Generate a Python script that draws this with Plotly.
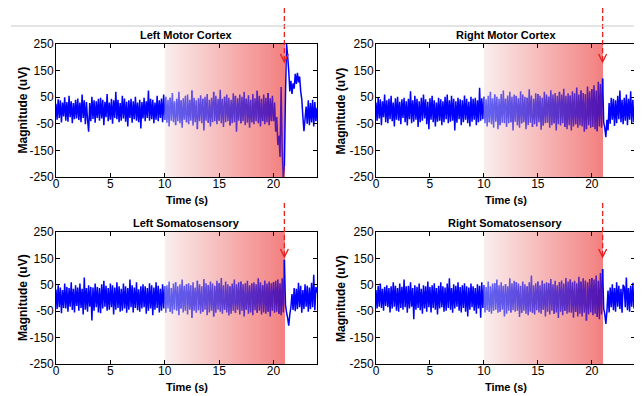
import plotly.graph_objects as go
from plotly.subplots import make_subplots

# ---------------- data ----------------
sample_step = 0.1  # seconds between samples
panel_titles = ["Left Motor Cortex", "Right Motor Cortex", "Left Somatosensory", "Right Somatosensory"]

left_motor = [
    25, -35, 42, -28, 38, -45, 30, -22, 50, -38,
    32, -42, 55, -25, 35, -48, 28, -33, 40, -30,
    45, -36, 30, -44, 60, -28, 38, -52, 32, -35,
    -80, 28, -40, 52, -32, 38, -46, 35, -28, 44,
    -38, 48, -30, 40, -55, 33, -25, 62, -40, 30,
    -35, 44, -50, 38, -28, 70, -33, 40, -44, 28,
    -38, 55, -30, 45, -42, 33, -60, 38, -28, 44,
    -46, 35, -33, 52, -38, 30, -44, 40, -68, 32,
    -30, 48, -40, 35, -28, 75, -38, 44, -33, 40,
    -48, 30, -35, 55, -40, 38, -28, 45, -44, 60,
    -35, 52, -46, 40, -60, 48, -38, 66, -44, 35,
    -55, 44, -40, 70, -48, 38, -65, 46, -35, 55,
    -44, 60, -52, 40, -38, 75, -56, 48, -44, 38,
    -70, 46, -40, 57, -48, 44, -75, 52, -38, 62,
    -46, 40, -60, 48, -44, 70, -40, 55, -52, 44,
    -38, 78, -48, 44, -62, 52, -44, 60, -40, 48,
    -56, 40, -48, 65, -44, 55, -80, 46, -38, 60,
    -48, 52, -40, 70, -55, 44, -46, 57, -65, 40,
    -44, 62, -52, 46, -40, 74, -48, 55, -60, 44,
    -40, 60, -52, 48, -44, 66, -55, 46, -40, 55,
    -40, 30, -80, -25, -130, -95, -175, 88, -155, -250,
    -210, 55, 250, 205, 150, 72, 112, 62, 102, 82,
    138, 100, 142, 106, 128, 72, 42, -22, -78, -32,
    15, -50, 38, -55, 28, -45, 40, -60, 32, -40,
    10,
]

right_motor = [
    30, -38, 48, -30, 42, -55, 35, -25, 60, -44,
    38, -48, 44, -33, 55, -40, 30, -60, 46, -35,
    52, -38, 33, -52, 42, -28, 48, -44, 35, -56,
    44, -33, 72, -48, 38, -42, 55, -35, 44, -62,
    35, -44, 48, -38, 60, -30, 42, -52, 33, -70,
    46, -35, 55, -44, 38, -60, 30, -42, 48, -38,
    42, -55, 35, -44, 52, -33, 60, -48, 38, -42,
    55, -38, 44, -75, 35, -46, 48, -33, 42, -55,
    38, -44, 56, -35, 44, -48, 33, -60, 52, -42,
    44, -35, 48, -55, 38, -44, 85, -38, 46, -33,
    52, -48, 42, -60, 55, -44, 70, -52, 46, -65,
    60, -42, 52, -70, 44, -55, 62, -46, 75, -48,
    44, -62, 56, -48, 70, -44, 52, -75, 60, -42,
    55, -56, 46, -65, 72, -48, 60, -44, 52, -70,
    48, -55, 80, -46, 56, -62, 44, -52, 65, -60,
    62, -44, 55, -72, 48, -56, 70, -48, 60, -46,
    52, -65, 76, -55, 60, -48, 66, -75, 55, -52,
    70, -56, 60, -48, 82, -62, 55, -70, 65, -55,
    56, -75, 72, -60, 65, -52, 86, -65, 60, -56,
    75, -60, 66, -80, 62, -70, 90, -55, 72, -65,
    80, -62, 95, -70, 75, -78, 108, -60, 100, -65,
    120, -45, -65, -100, -35, -75, 28, -50, 48, -35,
    44, -58, 38, -48, 55, -33, 75, -44, 40, -52,
    48, -38, 60, -55, 44, -35, 72, -48, 40, -44,
    30,
]

left_somato = [
    32, -42, 48, -35, 40, -58, 30, -38, 55, -40,
    42, -52, 38, -33, 60, -45, 35, -55, 48, -30,
    40, -48, 55, -38, 35, -62, 78, -44, 38, -52,
    48, -33, 42, -85, 40, -48, 55, -35, 42, -55,
    38, -58, 52, -40, 65, -33, 46, -48, 38, -44,
    55, -35, 48, -62, 40, -44, 60, -38, 44, -52,
    35, -48, 55, -40, 44, -56, 38, -44, 70, -35,
    48, -55, 40, -38, 60, -46, 33, -52, 44, -40,
    52, -35, 44, -60, 38, -48, 56, -40, 48, -65,
    40, -44, 60, -38, 46, -55, 35, -48, 52, -40,
    44, -56, 48, -40, 62, -52, 38, -60, 55, -44,
    60, -48, 44, -65, 52, -40, 70, -55, 46, -48,
    52, -62, 56, -44, 48, -75, 60, -48, 40, -56,
    65, -46, 52, -60, 44, -52, 72, -44, 56, -65,
    48, -55, 62, -48, 55, -70, 46, -56, 65, -44,
    56, -52, 76, -60, 48, -44, 62, -55, 52, -66,
    44, -60, 55, -48, 70, -56, 52, -44, 60, -62,
    62, -48, 52, -70, 56, -44, 65, -60, 48, -55,
    55, -65, 60, -46, 52, -56, 75, -48, 60, -62,
    48, -55, 66, -60, 55, -52, 62, -70, 56, -48,
    60, -56, 65, -52, 70, -60, 56, -65, 75, -55,
    145, -25, -55, -75, -105, -62, -35, 15, -45, 38,
    -50, 35, -42, 58, -35, 46, -56, 30, -42, 52,
    -33, 46, -52, 40, -42, 58, -35, 88, -46, 42,
    20,
]

right_somato = [
    30, -40, 46, -33, 55, -38, 35, -48, 42, -30,
    48, -35, 38, -55, 44, -40, 60, -33, 46, -48,
    38, -52, 55, -38, 42, -44, 70, -35, 44, -56,
    46, -40, 60, -33, 38, -80, 48, -44, 42, -38,
    55, -46, 35, -60, 48, -40, 44, -52, 62, -35,
    42, -55, 48, -38, 56, -44, 38, -62, 46, -40,
    60, -35, 44, -52, 40, -48, 55, -38, 75, -44,
    38, -56, 52, -40, 46, -33, 60, -48, 42, -55,
    48, -38, 56, -52, 44, -70, 40, -44, 55, -35,
    44, -48, 38, -60, 52, -40, 46, -75, 60, -38,
    48, -55, 42, -46, 62, -52, 44, -60, 55, -48,
    56, -44, 70, -56, 48, -52, 60, -44, 46, -70,
    52, -60, 44, -48, 75, -55, 56, -46, 65, -52,
    60, -48, 55, -72, 46, -56, 62, -48, 52, -60,
    44, -65, 60, -52, 85, -56, 48, -62, 56, -46,
    62, -55, 48, -60, 66, -44, 55, -70, 60, -52,
    56, -62, 72, -48, 52, -60, 65, -55, 48, -76,
    60, -52, 66, -65, 55, -48, 76, -60, 62, -55,
    70, -56, 60, -75, 65, -52, 56, -70, 80, -60,
    62, -70, 75, -56, 66, -85, 60, -62, 72, -55,
    76, -65, 70, -60, 85, -72, 65, -80, 95, -62,
    110, -40, -60, -98, -50, 28, -55, 40, -35, 52,
    -46, 38, -52, 60, -33, 46, -42, 35, -56, 50,
    42, -35, 78, -46, 38, -52, 46, -33, 58, -40,
    30,
]

series = [left_motor, right_motor, left_somato, right_somato]

x_tick_vals = [0, 5, 10, 15, 20]
x_tick_text = ["0", "5", "10", "15", "20"]
y_tick_vals = [-250, -150, -50, 50, 150, 250]
y_tick_text = ["-250", "-150", "-50", "50", "150", "250"]
x_range = [0, 24]
y_range = [-250, 250]

shade_start = 10   # s
shade_end = 21     # s  (stimulus / arrow time)
arrow_time = 21

# ---------------- styling ----------------
PAGE_W, PAGE_H = 642, 396
BODY_MARGIN = 8            # default <body> margin of the html page
W, H = PAGE_W - BODY_MARGIN, PAGE_H - BODY_MARGIN
FONT = "Arial, Liberation Sans, Helvetica, sans-serif"
BLUE = (0, 0, 255)
TRACE_START = (100, 100, 242)
TRACE_END = (84, 20, 176)
SHADE_START = (250, 238, 238)
SHADE_END = (243, 128, 128)
RED = "#e82020"
LW = 1.5


def lerp(c0, c1, f):
    return "rgb(%d,%d,%d)" % tuple(round(a + (b - a) * f) for a, b in zip(c0, c1))


def px_x(p):  # page pixel -> paper fraction
    return (p - BODY_MARGIN) / W


def px_y(p):
    return 1 - (p - BODY_MARGIN) / H


x_domains = [[px_x(56), px_x(317)], [px_x(376), px_x(635)]]
y_domains = [[px_y(177), px_y(44)], [px_y(364), px_y(232)]]

fig = make_subplots(rows=2, cols=2)

shapes = []
annotations = []

for k, (title, vals) in enumerate(zip(panel_titles, series)):
    r, c = k // 2, k % 2
    row, col = r + 1, c + 1
    n = len(vals)
    t = [round(i * sample_step, 3) for i in range(n)]
    i_s = int(round(shade_start / sample_step))
    i_e = int(round(shade_end / sample_step))

    line_kw = dict(width=LW, simplify=False)
    fig.add_trace(go.Scatter(x=t[:i_s + 1], y=vals[:i_s + 1], mode="lines",
                             line=dict(color=lerp(BLUE, BLUE, 0), **line_kw),
                             showlegend=False, hoverinfo="skip"), row=row, col=col)
    step = 5
    for a in range(i_s, i_e, step):
        b = min(a + step, i_e)
        f = ((a + b) / 2 - i_s) / (i_e - i_s)
        fig.add_trace(go.Scatter(x=t[a:b + 1], y=vals[a:b + 1], mode="lines",
                                 line=dict(color=lerp(TRACE_START, TRACE_END, f), **line_kw),
                                 showlegend=False, hoverinfo="skip"), row=row, col=col)
    fig.add_trace(go.Scatter(x=t[i_e:], y=vals[i_e:], mode="lines",
                             line=dict(color=lerp(BLUE, BLUE, 0), **line_kw),
                             showlegend=False, hoverinfo="skip"), row=row, col=col)

    axn = k + 1
    xref = "x" if axn == 1 else "x%d" % axn
    yref = "y" if axn == 1 else "y%d" % axn

    nstrip = 55
    for s in range(nstrip):
        x0 = shade_start + (shade_end - shade_start) * s / nstrip
        shapes.append(dict(type="rect", xref=xref, yref=yref, x0=x0, x1=shade_end,
                           y0=y_range[0], y1=y_range[1], layer="below",
                           fillcolor=lerp(SHADE_START, SHADE_END, (s + 0.5) / nstrip),
                           line=dict(width=0)))

    tip_px = 62 if r == 0 else 257
    tip = px_y(tip_px)
    shapes.append(dict(type="line", xref=xref, yref="paper", xsizemode="scaled",
                       ysizemode="pixel", yanchor=tip, x0=arrow_time, x1=arrow_time,
                       y0=1, y1=55, line=dict(color=RED, width=1.3, dash="5px,3px")))
    shapes.append(dict(type="path", xref=xref, yref="paper", xsizemode="pixel",
                       ysizemode="pixel", xanchor=arrow_time, yanchor=tip,
                       path="M-4,8 L0,0 L4,8", line=dict(color=RED, width=1.4)))

    xd = x_domains[c]
    yd = y_domains[r]
    xmid = (xd[0] + xd[1]) / 2
    title_px = 35 if r == 0 else 223
    time_px = 200 if r == 0 else 387
    annotations.append(dict(text="<b>%s</b>" % title, x=xmid, y=px_y(title_px), xref="paper",
                            yref="paper", showarrow=False, xanchor="center", yanchor="middle",
                            font=dict(family=FONT, size=11, color="black")))
    annotations.append(dict(text="<b>Time (s)</b>", x=xmid, y=px_y(time_px), xref="paper",
                            yref="paper", showarrow=False, xanchor="center", yanchor="middle",
                            font=dict(family=FONT, size=11, color="black")))
    mag_px = 23 if c == 0 else 341
    annotations.append(dict(text="<b>Magnitude (uV)</b>", x=px_x(mag_px), y=(yd[0] + yd[1]) / 2,
                            xref="paper", yref="paper", showarrow=False, textangle=-90,
                            xanchor="center", yanchor="middle",
                            font=dict(family=FONT, size=12, color="black")))

    axis_common = dict(showline=True, linecolor="black", linewidth=1, mirror="ticks",
                       ticks="inside", ticklen=4, tickcolor="black", tickwidth=1,
                       showgrid=False, zeroline=False, automargin=False,
                       tickfont=dict(family=FONT, size=12, color="black"))
    fig.update_xaxes(domain=xd, range=x_range, tickvals=x_tick_vals, ticktext=x_tick_text,
                     ticklabelstandoff=-4, row=row, col=col, **axis_common)
    fig.update_yaxes(domain=yd, range=y_range, tickvals=y_tick_vals, ticktext=y_tick_text,
                     ticklabelstandoff=-1, row=row, col=col, **axis_common)

shapes.append(dict(type="line", xref="paper", yref="paper", x0=px_x(11), x1=1,
                   y0=px_y(26), y1=px_y(26), line=dict(color="#c8c8c8", width=1)))

fig.update_layout(template="none", width=W, height=H, autosize=False,
                  margin=dict(l=0, r=0, t=0, b=0, pad=0),
                  paper_bgcolor="white", plot_bgcolor="white",
                  shapes=shapes, annotations=annotations, showlegend=False)

fig.write_html("out.html")
